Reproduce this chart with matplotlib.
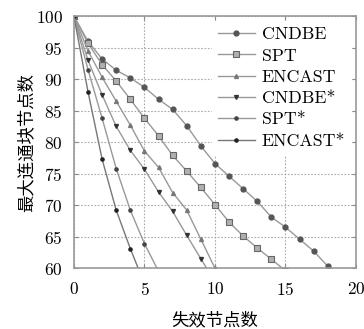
import matplotlib
matplotlib.use("Agg")
import matplotlib.pyplot as plt

plt.rcParams['font.family'] = ['cmr10', 'Noto Sans CJK SC']
plt.rcParams['axes.formatter.use_mathtext'] = True

# failed nodes -> size of largest connected block
cndbe_x = list(range(0, 19))
cndbe_y = [100, 96.0, 93.2, 91.4, 90.2, 88.7, 86.8, 85.2, 82.6, 79.4, 76.6,
           74.6, 72.6, 70.6, 68.1, 66.5, 64.6, 62.7, 60.3]

spt_x = list(range(0, 16))
spt_y = [100, 95.7, 92.3, 89.7, 86.8, 83.8, 81.0, 77.9, 75.4, 72.8, 70.1,
         67.3, 65.1, 63.2, 61.4, 59.6]

encast_x = list(range(0, 11))
encast_y = [100, 94.5, 90.3, 86.5, 82.7, 78.6, 76.0, 72.0, 69.2, 64.6, 60.0]

cndbe2_x = list(range(0, 11))
cndbe2_y = [100, 93.0, 87.5, 82.5, 78.7, 75.7, 72.1, 69.0, 65.2, 61.5, 57.8]

spt2_x = list(range(0, 7))
spt2_y = [100, 91.5, 83.8, 75.8, 69.2, 63.9, 59.5]

encast2_x = list(range(0, 6))
encast2_y = [100, 88.0, 77.3, 69.2, 63.1, 57.5]

labels = ["CNDBE", "SPT", "ENCAST", "CNDBE*", "SPT*", "ENCAST*"]

fig = plt.figure(figsize=(3.64, 3.29), dpi=100)
ax = fig.add_axes([0.203, 0.185, 0.775, 0.766])

lc = "#999999"
ax.plot(cndbe_x, cndbe_y, color=lc, lw=1, marker='o', ms=3.5,
        mfc="#555555", mec="#555555", label=labels[0])
ax.plot(spt_x, spt_y, color=lc, lw=1, marker='s', ms=4,
        mfc="#b0b0b0", mec="#666666", mew=0.8, label=labels[1])
ax.plot(encast_x, encast_y, color=lc, lw=1, marker='^', ms=2.8,
        mfc="#777777", mec="#777777", label=labels[2])
ax.plot(cndbe2_x, cndbe2_y, color=lc, lw=1, marker='v', ms=2.8,
        mfc="#333333", mec="#333333", label=labels[3])
ax.plot(spt2_x, spt2_y, color=lc, lw=1, marker='o', ms=2.3,
        mfc="#444444", mec="#444444", label=labels[4])
ax.plot(encast2_x, encast2_y, color="#777777", lw=1, marker='o', ms=2.3,
        mfc="#222222", mec="#222222", label=labels[5])

ax.set_xlim(0, 20)
ax.set_ylim(60, 100)
ax.set_xticks([0, 5, 10, 15, 20])
ax.set_yticks(range(60, 101, 5))
ax.grid(True, color="#aaaaaa", ls=(0, (1.5, 1.5)), lw=0.8)
ax.tick_params(direction='in', top=True, right=True, length=3,
               color="#888888", labelsize=12.5)
ax.tick_params(axis='x', pad=9)
ax.tick_params(axis='y', pad=8)
for s in ax.spines.values():
    s.set_color("#999999")
    s.set_linewidth(1.2)

ax.set_xlabel("失效节点数", fontsize=12.5, labelpad=10)
ax.set_ylabel("最大连通块节点数", fontsize=12.5, labelpad=1)

leg = ax.legend(loc='upper right', fontsize=12.8, frameon=True,
                handlelength=2.1, labelspacing=0.33, borderaxespad=0.3,
                handletextpad=0.4, borderpad=0.3, fancybox=False)
leg.get_frame().set_edgecolor('white')
leg.get_frame().set_alpha(1)

fig.savefig("out.png", dpi=100)
